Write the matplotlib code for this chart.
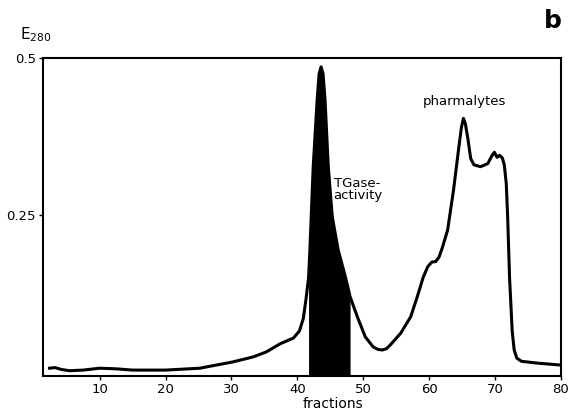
import matplotlib.pyplot as plt
import numpy as np

# absorbance trace
fractions = [2.4, 3.2, 4.2, 5.4, 7.5, 10.0, 12.5, 15.0, 20.0, 25.2, 30.2, 33.3, 35.3,
             37.4, 39.4, 40.3, 40.9, 41.3, 41.7, 41.9, 42.4, 43.0, 43.3, 43.6,
             43.9, 44.2, 44.7, 45.3, 46.2, 47.3, 48.0, 49.1, 50.3, 51.5, 52.2,
             52.9, 53.5, 54.1, 55.7, 57.2, 58.2, 59.1, 59.8, 60.4, 61.0, 61.5,
             62.0, 62.8, 63.7, 64.5, 64.9, 65.2, 65.5, 65.9, 66.3, 66.8, 67.8,
             68.9, 69.5, 69.9, 70.3, 70.7, 71.1, 71.4, 71.7, 71.9, 72.2, 72.6,
             72.9, 73.3, 74.0, 76.5, 80.0]
e280 = [0.006, 0.007, 0.004, 0.002, 0.003, 0.006, 0.005, 0.003, 0.003, 0.006,
        0.016, 0.024, 0.032, 0.045, 0.054, 0.065, 0.085, 0.115, 0.15, 0.194,
        0.326, 0.433, 0.475, 0.486, 0.475, 0.433, 0.326, 0.247, 0.194, 0.151,
        0.12, 0.088, 0.056, 0.040, 0.036, 0.035, 0.037, 0.043, 0.062, 0.088,
        0.12, 0.151, 0.168, 0.175, 0.176, 0.183, 0.198, 0.226, 0.29, 0.358,
        0.39, 0.404, 0.395, 0.370, 0.340, 0.330, 0.327, 0.332, 0.344, 0.350,
        0.342, 0.345, 0.341, 0.330, 0.300, 0.250, 0.150, 0.065, 0.035, 0.022,
        0.017, 0.014, 0.011]
activity_range = (41.7, 48.0)

xticks = [10, 20, 30, 40, 50, 60, 70, 80]
yticks = [0.25, 0.5]
ytick_labels = ["0.25", "0.5"]

x = np.array(fractions)
y = np.array(e280)

fig = plt.figure(figsize=(5.73, 4.15), dpi=100)
ax = fig.add_axes([0.075, 0.094, 0.904, 0.766])

ax.plot(x, y, color="black", lw=2.2, solid_joinstyle="round")
mask = (x >= activity_range[0]) & (x <= activity_range[1])
ax.fill_between(x[mask], -0.01, y[mask], color="black", lw=0)

ax.set_xlim(1.4, 80)
ax.set_ylim(-0.0064, 0.5)
ax.set_xticks(xticks)
ax.set_yticks(yticks)
ax.set_yticklabels(ytick_labels)
ax.tick_params(labelsize=9.5, length=3, width=1, pad=2)
for s in ax.spines.values():
    s.set_linewidth(1.5)

fig.text(0.035, 0.895, "E$_{280}$", fontsize=11, ha="left", va="bottom")
fig.text(0.965, 0.92, "b", fontsize=18, fontweight="bold", ha="center", va="bottom")
ax.text(45.5, 0.27, "TGase-\nactivity", fontsize=9.5, ha="left", va="bottom",
        linespacing=0.95)
ax.text(59.0, 0.42, "pharmalytes", fontsize=9.5, ha="left", va="bottom")
fig.text(0.581, 0.01, "fractions", fontsize=10, ha="center", va="bottom")

fig.savefig("out.png", dpi=100)
